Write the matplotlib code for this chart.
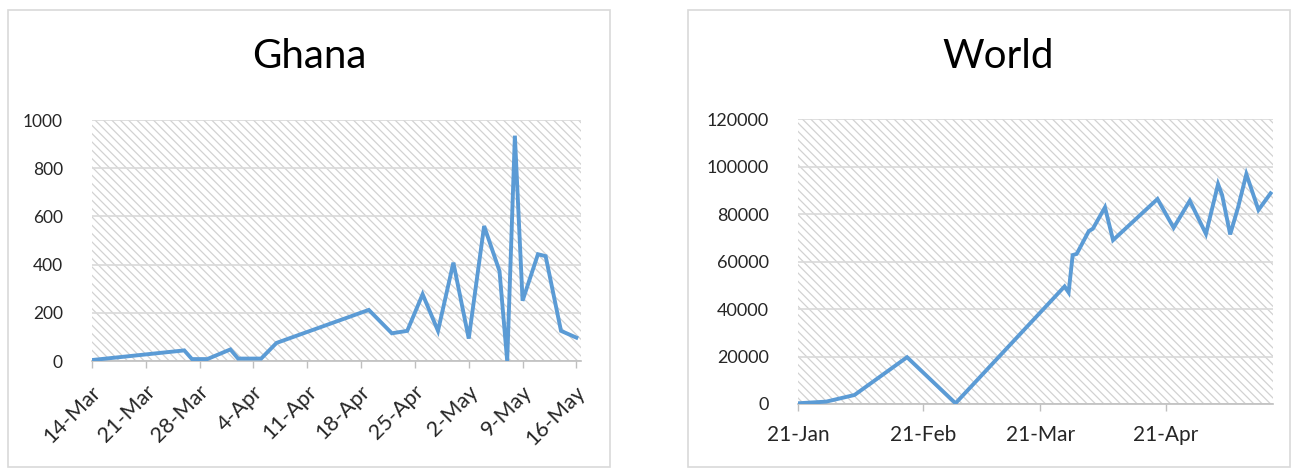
import matplotlib
matplotlib.use('Agg')
from matplotlib import pyplot as plt
from matplotlib.patches import Rectangle
from matplotlib.transforms import ScaledTranslation
import pandas as pd

# daily new cases, Ghana
ghana_dates = ['2020-03-14', '2020-03-26', '2020-03-27', '2020-03-29', '2020-04-01',
               '2020-04-02', '2020-04-05', '2020-04-07', '2020-04-19', '2020-04-22',
               '2020-04-24', '2020-04-26', '2020-04-28', '2020-04-30', '2020-05-02',
               '2020-05-04', '2020-05-06', '2020-05-07', '2020-05-08', '2020-05-09',
               '2020-05-11', '2020-05-12', '2020-05-14', '2020-05-16']
ghana_cases = [4, 44, 8, 8, 48, 10, 10, 75, 212, 115, 125, 277, 125, 408, 93,
               560, 373, 0, 935, 250, 443, 435, 125, 97]
ghana_ticks = ['14-Mar', '21-Mar', '28-Mar', '4-Apr', '11-Apr', '18-Apr',
               '25-Apr', '2-May', '9-May', '16-May']

# daily new cases, World
world_dates = ['2020-01-21', '2020-01-28', '2020-02-04', '2020-02-17', '2020-02-29',
               '2020-03-27', '2020-03-28', '2020-03-29', '2020-03-30', '2020-04-02',
               '2020-04-03', '2020-04-06', '2020-04-08', '2020-04-19', '2020-04-23',
               '2020-04-27', '2020-05-01', '2020-05-04', '2020-05-05', '2020-05-07',
               '2020-05-09', '2020-05-11', '2020-05-14', '2020-05-17']
world_cases = [300, 1000, 3800, 19700, 300, 49500, 47000, 62700, 63200, 72800,
               73800, 82800, 69000, 86300, 74200, 85600, 71600, 92600, 88000,
               71400, 83100, 96800, 81700, 88700]
world_ticks = ['21-Jan', '21-Feb', '21-Mar', '21-Apr']

plt.rcParams['font.family'] = ['Lato', 'DejaVu Sans']
plt.rcParams['hatch.linewidth'] = 0.9
LINE = '#5b9bd5'
GRID = '#d9d9d9'
TEXT = '#262626'

fig = plt.figure(figsize=(13.01, 4.68), dpi=100)
W, H = 1301, 468


def px(x0, y0, x1, y1):
    # pixel box (top-left origin) -> figure fraction rect
    return [x0 / W, 1 - y1 / H, (x1 - x0) / W, (y1 - y0) / H]


def panel(x0, x1):
    fig.patches.append(Rectangle((x0 / W, 1 - 467 / H), (x1 - x0) / W, 457 / H,
                                 transform=fig.transFigure, facecolor='none',
                                 edgecolor=GRID, lw=1.2, zorder=-1))


def style(ax, ymax, ystep):
    hatch = Rectangle((0, 0), 1, 1, transform=ax.transAxes, facecolor='white',
                      edgecolor='#d2d2d2', hatch='\\\\\\\\', lw=0, zorder=0)
    ax.add_patch(hatch)
    ax.set_ylim(0, ymax)
    ax.set_yticks(range(0, ymax + 1, ystep))
    ax.yaxis.grid(True, color=GRID, lw=1.2, zorder=1)
    ax.set_axisbelow(True)
    for s in ['top', 'right', 'left']:
        ax.spines[s].set_visible(False)
    ax.spines['bottom'].set_color('#bfbfbf')
    ax.spines['bottom'].set_linewidth(1.2)
    ax.tick_params(axis='y', length=0, colors=TEXT, pad=21)
    ax.tick_params(axis='x', length=5, color='#bfbfbf', colors=TEXT, width=1)


panel(8, 610)
panel(688, 1290)

# Ghana
ax1 = fig.add_axes(px(92, 120, 581, 361))
gd = pd.to_datetime(ghana_dates)
ax1.plot(gd, ghana_cases, color=LINE, lw=2.8, solid_joinstyle='miter', zorder=3)
style(ax1, 1000, 200)
g0 = pd.Timestamp('2020-03-14')
ax1.set_xlim(g0, g0 + pd.Timedelta(days=63.6))
ax1.set_xticks(pd.date_range(g0, periods=len(ghana_ticks), freq='7D'))
ax1.set_xticklabels(ghana_ticks, rotation=45, ha='right', va='center',
                    rotation_mode='anchor')
ax1.tick_params(axis='y', labelsize=12.5)
ax1.tick_params(axis='x', labelsize=15.5, pad=15)
# nudge the slanted labels a little to the right of their ticks
shift = ScaledTranslation(6 / 100, 0, fig.dpi_scale_trans)
for lab in ax1.get_xticklabels():
    lab.set_transform(lab.get_transform() + shift)
fig.text(309 / W, 1 - 56 / H, 'Ghana', ha='center', va='center',
         fontsize=29, color='black')

# World
ax2 = fig.add_axes(px(798, 119, 1273, 404))
wd = pd.to_datetime(world_dates)
ax2.plot(wd, world_cases, color=LINE, lw=2.8, solid_joinstyle='miter', zorder=3)
style(ax2, 120000, 20000)
w0 = pd.Timestamp('2020-01-21')
ax2.set_xlim(w0, w0 + pd.Timedelta(days=117.6))
ax2.set_xticks(pd.to_datetime(['2020-01-21', '2020-02-21', '2020-03-21', '2020-04-21']))
ax2.set_xticklabels(world_ticks)
ax2.tick_params(axis='y', labelsize=13)
ax2.tick_params(axis='x', labelsize=15, pad=10)
fig.text(998 / W, 1 - 56 / H, 'World', ha='center', va='center',
         fontsize=29, color='black')

fig.savefig('out.png', dpi=100)
